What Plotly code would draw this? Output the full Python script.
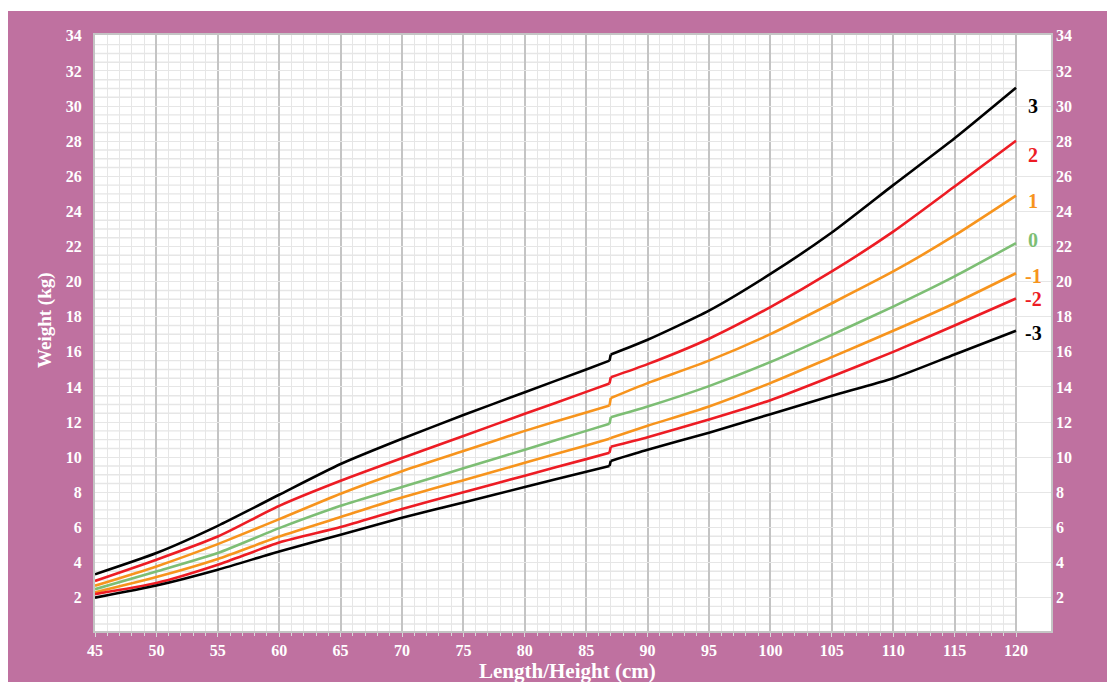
import plotly.graph_objects as go

# Length/Height (cm)
length_cm = [45, 50, 55, 60, 65, 70, 75, 80, 85, 86.9, 87, 90, 95, 100, 105, 110, 115, 120]

# Weight (kg) by z-score line
sd_p3 = [3.33, 4.54, 6.09, 7.86, 9.61, 11.05, 12.4, 13.7, 15.0, 15.5, 15.85, 16.69, 18.35, 20.44, 22.8, 25.5, 28.17, 31.05]
sd_p2 = [2.95, 4.16, 5.48, 7.23, 8.66, 9.95, 11.21, 12.47, 13.72, 14.2, 14.55, 15.3, 16.75, 18.55, 20.58, 22.85, 25.42, 28.03]
sd_p1 = [2.68, 3.78, 5.05, 6.47, 7.92, 9.2, 10.35, 11.5, 12.55, 12.95, 13.37, 14.22, 15.5, 17.01, 18.77, 20.58, 22.63, 24.9]
sd_0 = [2.48, 3.49, 4.54, 5.96, 7.23, 8.3, 9.37, 10.43, 11.5, 11.9, 12.28, 12.89, 14.05, 15.42, 16.97, 18.58, 20.3, 22.2]
sd_m1 = [2.3, 3.17, 4.2, 5.48, 6.59, 7.7, 8.69, 9.68, 10.67, 11.05, 11.1, 11.79, 12.89, 14.22, 15.7, 17.2, 18.77, 20.48]
sd_m2 = [2.2, 2.83, 3.87, 5.14, 6.02, 7.05, 8.0, 8.95, 9.89, 10.25, 10.6, 11.14, 12.15, 13.25, 14.6, 16.0, 17.5, 19.04]
sd_m3 = [2.0, 2.69, 3.59, 4.63, 5.58, 6.55, 7.42, 8.3, 9.17, 9.5, 9.79, 10.42, 11.4, 12.45, 13.5, 14.5, 15.85, 17.2]

series_names = ["3", "2", "1", "0", "-1", "-2", "-3"]
series_values = [sd_p3, sd_p2, sd_p1, sd_0, sd_m1, sd_m2, sd_m3]
series_colors = ["#000000", "#ED1C24", "#F7941D", "#7DBE74", "#F7941D", "#ED1C24", "#000000"]
label_y = [30.0, 27.2, 24.6, 22.4, 20.3, 19.0, 17.1]

x_ticks = list(range(45, 121, 5))
y_ticks = list(range(2, 35, 2))

PINK = "#BF71A0"
FONT = "Liberation Serif"

# split index: length chart ends at 86.9, height chart starts at 87
split = length_cm.index(87)

fig = go.Figure()
for name, vals, col in zip(series_names, series_values, series_colors):
    line_sp = dict(color=col, width=2.6, shape="spline", smoothing=0.6)
    fig.add_trace(go.Scatter(x=length_cm[:split], y=vals[:split], mode="lines", name=name,
                             line=line_sp, showlegend=False))
    fig.add_trace(go.Scatter(x=length_cm[split - 1:split + 1], y=vals[split - 1:split + 1],
                             mode="lines", name=name, line=dict(color=col, width=2.6),
                             showlegend=False, hoverinfo="skip"))
    fig.add_trace(go.Scatter(x=length_cm[split:], y=vals[split:], mode="lines", name=name,
                             line=line_sp, showlegend=False))
# invisible trace to activate right-hand axis
fig.add_trace(go.Scatter(x=length_cm, y=sd_0, yaxis="y2", mode="lines",
                         line=dict(width=0, color="rgba(0,0,0,0)"), showlegend=False,
                         hoverinfo="skip"))

# minor horizontal grid (only over 45-120)
shapes = []
v = 0.5
while v < 34.01:
    if abs(v / 2 - round(v / 2)) > 1e-6:
        shapes.append(dict(type="line", xref="x", yref="y", x0=45, x1=120, y0=v, y1=v,
                           line=dict(color="#E6E6E6", width=1.4), layer="below"))
    v += 0.5

# white strip above pink frame
shapes.append(dict(type="rect", xref="paper", yref="paper",
                   x0=-0.15, x1=1.15, y0=(631 - 11) / 596, y1=1.2,
                   fillcolor="white", line=dict(width=0), layer="above"))

annotations = []
for name, col, yy in zip(series_names, series_colors, label_y):
    annotations.append(dict(x=121.4, y=yy, xref="x", yref="y", text=name, showarrow=False,
                            font=dict(family=FONT, size=20, color=col, weight="bold"),
                            xanchor="center", yanchor="middle"))
annotations.append(dict(x=(45 - 95) / 956, y=(631 - 320) / 596, xref="paper", yref="paper",
                        text="Weight (kg)", textangle=-90, showarrow=False,
                        font=dict(family=FONT, size=19, color="white", weight="bold"),
                        xanchor="center", yanchor="middle"))
annotations.append(dict(x=(567 - 95) / 956, y=(631 - 671) / 596, xref="paper", yref="paper",
                        text="Length/Height (cm)", showarrow=False,
                        font=dict(family=FONT, size=21, color="white", weight="bold"),
                        xanchor="center", yanchor="middle"))

minor_x = [i for i in range(46, 120) if i % 5 != 0]

fig.update_layout(
    width=1115, height=682,
    margin=dict(l=87, r=72, t=27, b=59),
    paper_bgcolor=PINK,
    plot_bgcolor="white",
    shapes=shapes,
    annotations=annotations,
    xaxis=dict(range=[45, 122.85], tickmode="array", tickvals=x_ticks,
               showgrid=True, gridcolor="#C4C4C4", gridwidth=2,
               zeroline=False, showline=True, linecolor="#C4C4C4", linewidth=2, mirror=True,
               ticks="outside", ticklen=4, tickcolor="#D9D9D9",
               tickfont=dict(family=FONT, size=16, color="white", weight="bold"),
               minor=dict(tickmode="array", tickvals=minor_x, showgrid=True,
                          gridcolor="#E6E6E6", gridwidth=1.4, ticks="outside",
                          ticklen=3, tickcolor="#D9D9D9")),
    yaxis=dict(range=[0.1, 34.05], tickmode="array", tickvals=y_ticks,
               showgrid=True, gridcolor="#E6E6E6", gridwidth=1.4,
               zeroline=False, showline=True, linecolor="#C4C4C4", linewidth=2, mirror=True,
               ticks="", ticklabelstandoff=8,
               tickfont=dict(family=FONT, size=16, color="white", weight="bold")),
    yaxis2=dict(range=[0.1, 34.05], overlaying="y", side="right", tickmode="array",
                tickvals=y_ticks, showgrid=False, zeroline=False, showline=False,
                ticks="", ticklabelstandoff=4,
                tickfont=dict(family=FONT, size=16, color="white", weight="bold")),
    hovermode="closest",
)

fig.write_html("out.html")
